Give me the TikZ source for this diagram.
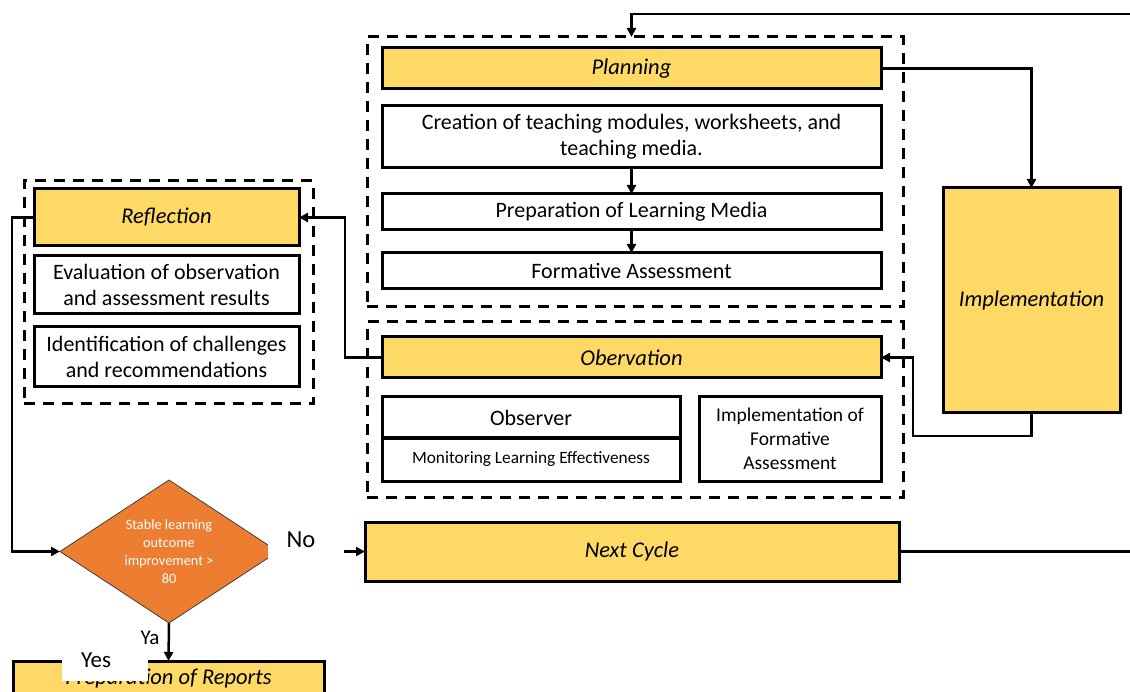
\documentclass[tikz,border=0pt]{standalone}
\usepackage{fontspec}
\setmainfont{Carlito}
\usetikzlibrary{shapes.geometric,arrows.meta}
\definecolor{gold}{HTML}{FFD966}
\definecolor{orng}{HTML}{ED7D31}
\tikzset{
  box/.style={draw=black, line width=3pt, inner sep=0pt, outer sep=0pt, align=center},
  title/.style={box, fill=gold, font=\fontsize{22.5}{26}\selectfont\itshape},
  plain/.style={box, fill=white, font=\fontsize{22}{26}\selectfont},
  group/.style={draw=black, line width=3pt, dash pattern=on 11pt off 8pt, inner sep=0pt, outer sep=0pt},
  arr/.style={draw=black, line width=2.5pt, -{Triangle[length=9pt,width=9pt]}},
  tag/.style={fill=white, inner sep=0pt},
}
\begin{document}
\begin{tikzpicture}[x=1pt,y=-1pt]
\clip (0,0) rectangle (1130,692);
\fill[white] (0,0) rectangle (1130,692);

% group frames
\node[group, minimum width=536pt, minimum height=270pt] (plangrp) at (635,172) {};
\node[group, minimum width=536pt, minimum height=175pt] (obsgrp) at (635,409.5) {};
\node[group, minimum width=289pt, minimum height=223pt] (refgrp) at (168.5,292.5) {};

% planning column
\node[title, minimum width=499pt, minimum height=41pt] (planning) at (631.5,68.5) {Planning};
\node[plain, minimum width=499pt, minimum height=62pt] (creation) at (631.5,137) {Creation of teaching modules, worksheets, and\\teaching media.};
\node[plain, minimum width=499pt, minimum height=36pt] (media) at (631.5,212) {Preparation of Learning Media};
\node[plain, minimum width=499pt, minimum height=36pt] (formative) at (631.5,271) {Formative Assessment};

% implementation
\node[title, minimum width=177pt, minimum height=225pt] (impl) at (1031.5,300.5) {Implementation};

% observation column
\node[title, minimum width=499pt, minimum height=41pt] (observation) at (631.5,357.5) {Obervation};
\node[plain, minimum width=298pt, minimum height=41pt] (observer) at (531,417.5) {Observer};
\node[box, fill=white, minimum width=298pt, minimum height=43pt, font=\fontsize{17.3}{20}\selectfont] (monitor) at (531,459.5) {Monitoring Learning Effectiveness};
\node[box, fill=white, minimum width=182pt, minimum height=84pt, font=\fontsize{19.5}{24}\selectfont] (implfa) at (790,439) {Implementation of\\Formative\\Assessment};

% reflection column
\node[title, minimum width=265pt, minimum height=57pt] (reflection) at (166.5,217.5) {Reflection};
\node[plain, minimum width=265pt, minimum height=58pt] (evaluation) at (166.5,285) {Evaluation of observation\\and assessment results};
\node[plain, minimum width=265pt, minimum height=60pt] (identify) at (166.5,357) {Identification of challenges\\and recommendations};

% decision
\node[diamond, draw=black!75, line width=0.8pt, fill=orng, minimum width=218pt, minimum height=143pt, inner sep=0pt, outer sep=0pt] (dec) at (169,551.5) {};
\node[text=white, align=center, font=\fontsize{14.3}{18}\selectfont] (dectext) at (169,552) {Stable learning\\outcome\\improvement >\\80};

% next cycle and reports
\node[title, minimum width=534pt, minimum height=59pt] (next) at (632,551.5) {Next Cycle};
\node[title, minimum width=311pt, minimum height=59pt] (reports) at (168.5,690.5) {};
\node[font=\fontsize{22.5}{26}\selectfont\itshape, inner sep=0pt] (reptext) at (168.5,679) {Preparation of Reports};

% connectors
\draw[arr] (next.east) -- (1145,551.5) |- (1145,14) -| (planning.north |- plangrp.north);
\draw[arr] (planning.east) -| (impl.north);
\draw[arr] (creation.south) -- (media.north);
\draw[arr] (media.south) -- (formative.north);
\draw[arr] (impl.south) |- (913,436) |- (observation.east);
\draw[arr] (observation.west) -- (345,357.5) |- (reflection.east);
\draw[arr] (reflection.west) -- (12,217.5) |- (dec.west);
\draw[arr] (dec.east) -- (next.west);
\draw[arr] (dec.south) -- (reports.north);

% answer labels
\node[tag, minimum width=76pt, minimum height=45pt] (nobg) at (306,542.5) {};
\node[font=\fontsize{24.5}{26}\selectfont, inner sep=0pt] (nolbl) at (301,540) {No};
\node[font=\fontsize{21}{24}\selectfont, inner sep=0pt] (yalbl) at (150,638) {Ya};
\node[tag, minimum width=86pt, minimum height=30pt] (yesbg) at (105,666) {};
\node[font=\fontsize{23}{26}\selectfont, inner sep=0pt] (yestxt) at (96,660) {Yes};
\end{tikzpicture}
\end{document}
